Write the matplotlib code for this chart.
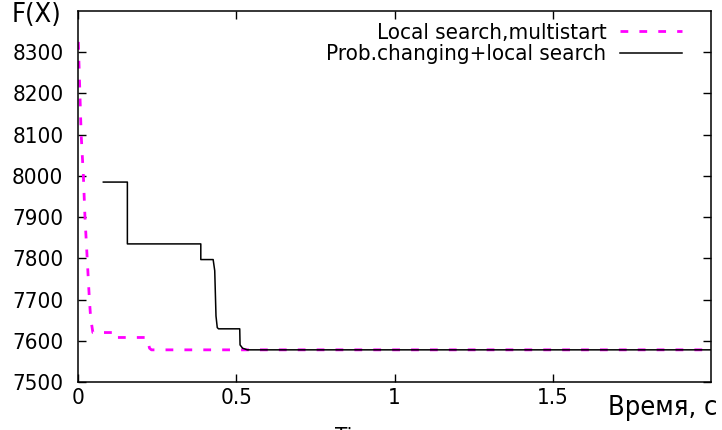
import matplotlib
matplotlib.use("Agg")
import matplotlib.pyplot as plt

# Local search with multistart
ms_t = [0.001, 0.006, 0.010, 0.017, 0.022, 0.029, 0.036, 0.040, 0.047,
        0.126, 0.126, 0.218, 0.226, 0.232, 2.0]
ms_f = [8325, 8200, 8100, 8000, 7900, 7800, 7700, 7655, 7620,
        7620, 7608, 7608, 7582, 7578, 7578]

# Probability changing + local search
pc_t = [0.080, 0.156, 0.156, 0.388, 0.388, 0.427, 0.432, 0.436, 0.440,
        0.444, 0.511, 0.512, 0.520, 0.535, 2.0]
pc_f = [7985, 7985, 7835, 7835, 7797, 7797, 7770, 7660, 7632,
        7629, 7629, 7590, 7582, 7578, 7578]

xticks = [0, 0.5, 1, 1.5]
xticklabels = ["0", "0.5", "1", "1.5"]
yticks = [7500, 7600, 7700, 7800, 7900, 8000, 8100, 8200, 8300]

plt.rcParams['font.family'] = ['DejaVu Sans']
plt.rcParams['font.stretch'] = 'condensed'
fs = 16
fs_lab = 19.5

fig = plt.figure(figsize=(7.22, 4.30), dpi=100)
ax = fig.add_axes([78 / 722, 48 / 430, 633 / 722, 371 / 430])

ax.plot(ms_t, ms_f, color='#ff00ff', lw=2.0, dashes=(2.8, 4.0),
        label='Local search,multistart')
ax.plot(pc_t, pc_f, color='black', lw=1.1,
        label='Prob.changing+local search')

ax.set_xlim(0, 2.0)
ax.set_ylim(7500, 8400)
ax.set_xticks(xticks)
ax.set_xticklabels(xticklabels)
ax.set_yticks(yticks)
ax.tick_params(direction='in', length=6, width=1.0, top=True, right=True,
               labelsize=fs, colors='black')
ax.tick_params(axis='y', pad=10.5)
ax.tick_params(axis='x', pad=4)
for sp in ax.spines.values():
    sp.set_linewidth(1.1)

fig.text(37 / 722, 1 - 15 / 430, 'F(X)', fontsize=fs_lab, ha='center', va='center')
fig.text(718 / 722, 1 - 408 / 430, 'Время, с', fontsize=fs_lab, ha='right', va='center')
fig.text(335 / 722, 3 / 430, 'Time', fontsize=fs, ha='left', va='top')

leg = ax.legend(loc='upper right', markerfirst=False, frameon=False,
                fontsize=fs, handlelength=2.8, handletextpad=0.6,
                labelspacing=0.06, borderaxespad=0.0, borderpad=0.0,
                bbox_to_anchor=((682 - 78) / 633, (382 - 23) / 371))

fig.savefig('out.png', dpi=100)
